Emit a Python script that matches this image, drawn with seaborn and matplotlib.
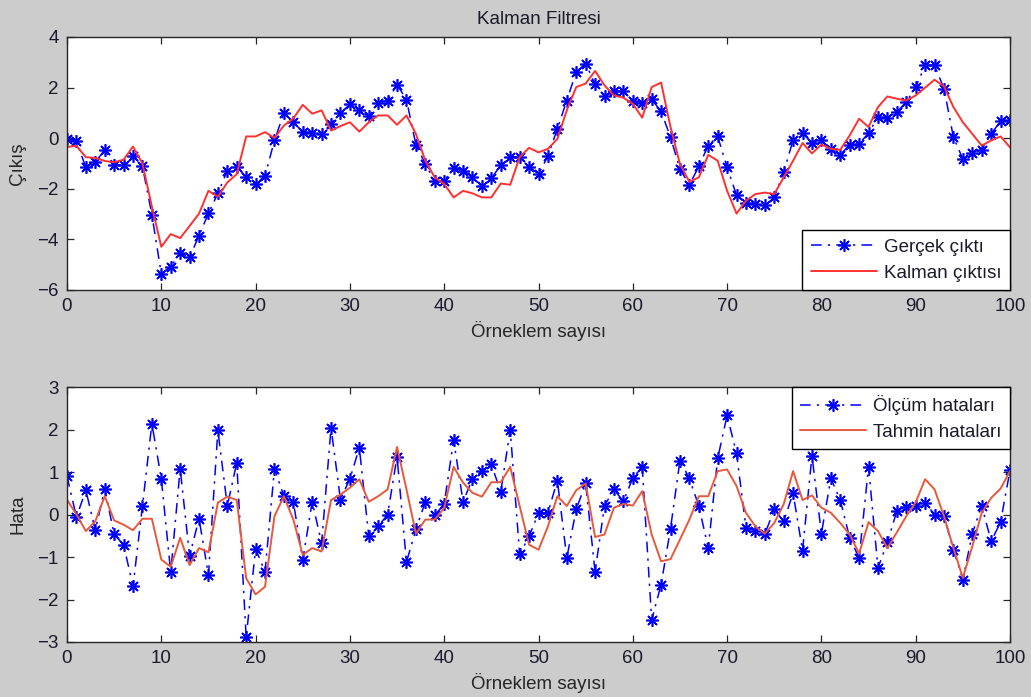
import matplotlib
matplotlib.use('Agg')
import matplotlib.pyplot as plt
import pandas as pd
import seaborn as sns

# ---------------- data ----------------
orneklem = list(range(101))

gercek_cikti = [
    -0.03, -0.13, -1.15, -0.95, -0.46, -1.06, -1.06, -0.69, -1.11, -3.02,
    -5.37, -5.08, -4.54, -4.71, -3.85, -2.97, -2.18, -1.28, -1.12, -1.54,
    -1.83, -1.48, -0.09, 0.99, 0.63, 0.24, 0.21, 0.17, 0.57, 0.99,
    1.34, 1.10, 0.86, 1.39, 1.49, 2.12, 1.52, -0.26, -1.02, -1.71,
    -1.68, -1.19, -1.28, -1.55, -1.90, -1.59, -1.06, -0.73, -0.75, -1.12,
    -1.42, -0.71, 0.37, 1.49, 2.62, 2.95, 2.13, 1.65, 1.85, 1.87,
    1.47, 1.40, 1.53, 1.06, 0.04, -1.22, -1.85, -1.11, -0.29, 0.07,
    -1.15, -2.25, -2.58, -2.60, -2.63, -2.34, -1.35, -0.07, 0.20, -0.19,
    -0.09, -0.42, -0.65, -0.26, -0.22, 0.20, 0.83, 0.81, 1.03, 1.43,
    2.02, 2.88, 2.88, 1.96, 0.04, -0.82, -0.60, -0.45, 0.17, 0.67,
    0.73,
]

kalman_cikti = [
    -0.35, -0.30, -0.75, -0.78, -0.90, -0.95, -0.85, -0.33, -1.00, -2.70,
    -4.29, -3.79, -3.95, -3.47, -2.98, -2.08, -2.31, -1.75, -1.42, 0.07,
    0.07, 0.24, 0.01, 0.50, 0.78, 1.32, 0.97, 1.10, 0.30, 0.48,
    0.63, 0.26, 0.63, 0.90, 0.90, 0.53, 0.90, 0.17, -0.89, -1.55,
    -1.81, -2.34, -2.08, -2.18, -2.34, -2.34, -1.79, -1.84, -0.75, -0.38,
    -0.56, -0.42, -0.03, 1.10, 2.02, 2.16, 2.66, 2.09, 1.69, 1.60,
    1.36, 0.81, 2.02, 2.20, 0.44, -1.02, -1.72, -1.55, -0.66, -0.89,
    -2.08, -2.98, -2.47, -2.21, -2.15, -2.21, -1.55, -0.89, -0.19, -0.60,
    -0.25, -0.42, -0.46, 0.11, 0.77, 0.44, 1.23, 1.65, 1.56, 1.49,
    1.69, 2.00, 2.31, 2.05, 1.23, 0.63, 0.17, -0.29, -0.09, 0.07,
    -0.36,
]

olcum_hatalari = [
    0.90, -0.06, 0.57, -0.37, 0.61, -0.47, -0.71, -1.69, 0.20, 2.14,
    0.84, -1.36, 1.08, -0.97, -0.10, -1.42, 1.98, 0.20, 1.22, -2.89,
    -0.81, -1.35, 1.08, 0.43, 0.30, -1.07, 0.30, -0.67, 2.04, 0.35,
    0.84, 1.57, -0.51, -0.28, 0.00, 1.36, -1.12, -0.35, 0.30, -0.02,
    0.25, 1.75, 0.30, 0.84, 1.02, 1.18, 0.53, 2.00, -0.94, -0.51,
    0.03, 0.04, 0.80, -1.02, 0.12, 0.73, -1.35, 0.21, 0.59, 0.31,
    0.86, 1.12, -2.48, -1.65, -0.33, 1.27, 0.85, 0.20, -0.79, 1.32,
    2.33, 1.44, -0.31, -0.38, -0.46, 0.12, -0.16, 0.50, -0.85, 1.38,
    -0.45, 0.85, 0.34, -0.55, -1.02, 1.12, -1.26, -0.65, 0.08, 0.18,
    0.21, 0.28, 0.00, -0.04, -0.83, -1.53, -0.45, 0.21, -0.63, -0.18,
    1.04,
]

tahmin_hatalari = [
    0.35, 0.00, -0.39, -0.16, 0.43, -0.14, -0.24, -0.37, -0.10, -0.10,
    -1.06, -1.23, -0.55, -1.19, -0.79, -0.89, 0.28, 0.42, 0.34, -1.50,
    -1.88, -1.70, -0.04, 0.43, -0.12, -0.95, -0.79, -0.87, 0.34, 0.47,
    0.63, 0.83, 0.30, 0.43, 0.59, 1.59, 0.59, -0.45, -0.12, -0.12,
    0.16, 1.12, 0.75, 0.51, 0.42, 0.76, 0.76, 1.12, 0.20, -0.71,
    -0.83, -0.28, 0.43, 0.20, 0.57, 0.73, -0.53, -0.47, 0.16, 0.25,
    0.21, 0.55, -0.47, -1.10, -1.05, -0.59, -0.12, 0.43, 0.43, 1.02,
    1.06, 0.67, 0.04, -0.28, -0.45, -0.20, 0.24, 1.02, 0.34, 0.45,
    0.16, 0.04, -0.20, -0.47, -0.92, -0.18, -0.39, -0.79, -0.42, -0.04,
    0.29, 0.83, 0.59, -0.04, -0.79, -1.49, -0.75, 0.04, 0.39, 0.61,
    1.02,
]

x_ticks = list(range(0, 101, 10))
y_ticks_top = [-6, -4, -2, 0, 2, 4]
y_ticks_bottom = [-3, -2, -1, 0, 1, 2, 3]

df = pd.DataFrame({
    "n": orneklem,
    "gercek": gercek_cikti,
    "kalman": kalman_cikti,
    "olcum": olcum_hatalari,
    "tahmin": tahmin_hatalari,
})

# ---------------- style ----------------
sns.set_theme(style="ticks")
plt.rcParams["font.family"] = ["Liberation Sans", "DejaVu Sans"]
plt.rcParams["axes.edgecolor"] = "#262626"
plt.rcParams["text.color"] = "#1a1a2a"

FS = 13.5
BLUE = "#0000ff"
RED_TOP = "#ff3030"
RED_BOT = "#e8583a"
asterisk = (8, 2, 0)
dashdot = (0, (7, 4, 1.5, 4))

W, H = 1031, 697
fig = plt.figure(figsize=(W / 100, H / 100), dpi=100, facecolor="#cccccc")
ax1 = fig.add_axes([67 / W, 1 - 290 / H, 943 / W, 253 / H])
ax2 = fig.add_axes([67 / W, 1 - 642 / H, 943 / W, 255 / H])

sns.lineplot(data=df, x="n", y="gercek", ax=ax1, color=BLUE, linestyle=dashdot,
             marker=asterisk, markersize=9, markeredgewidth=1.2,
             markeredgecolor=BLUE, linewidth=1.1, label="Gerçek çıktı",
             estimator=None, sort=False)
sns.lineplot(data=df, x="n", y="kalman", ax=ax1, color=RED_TOP, linestyle="-",
             linewidth=1.4, label="Kalman çıktısı", estimator=None, sort=False)

sns.lineplot(data=df, x="n", y="olcum", ax=ax2, color=BLUE, linestyle=dashdot,
             marker=asterisk, markersize=9, markeredgewidth=1.2,
             markeredgecolor=BLUE, linewidth=1.1, label="Ölçüm hataları",
             estimator=None, sort=False)
sns.lineplot(data=df, x="n", y="tahmin", ax=ax2, color=RED_BOT, linestyle="-",
             linewidth=1.4, label="Tahmin hataları", estimator=None, sort=False)

for ax, yt in ((ax1, y_ticks_top), (ax2, y_ticks_bottom)):
    ax.set_facecolor("white")
    ax.set_xlim(0, 100)
    ax.set_ylim(min(yt), max(yt))
    ax.set_xticks(x_ticks)
    ax.set_yticks(yt)
    ax.tick_params(direction="in", top=True, right=True, length=5, width=0.9,
                   labelsize=FS, pad=6, colors="#262626", labelcolor="#1a1a2a")
    for s in ax.spines.values():
        s.set_visible(True)
        s.set_linewidth(1.0)
    ax.set_xlabel("Örneklem sayısı", fontsize=FS, labelpad=4)

ax1.set_ylabel("Çıkış", fontsize=FS, labelpad=8)
ax2.set_ylabel("Hata", fontsize=FS, labelpad=8)
ax1.set_title("Kalman Filtresi", fontsize=FS, pad=9)

leg_kw = dict(borderaxespad=0, fancybox=False, edgecolor="black", framealpha=1,
              fontsize=FS, handlelength=3.5, handletextpad=0.4,
              borderpad=0.45, labelspacing=0.45)
l1 = ax1.legend(loc="lower right", **leg_kw)
l2 = ax2.legend(loc="upper right", **leg_kw)
for lg in (l1, l2):
    lg.get_frame().set_linewidth(1.0)

fig.savefig("out.png", dpi=100, facecolor=fig.get_facecolor())
